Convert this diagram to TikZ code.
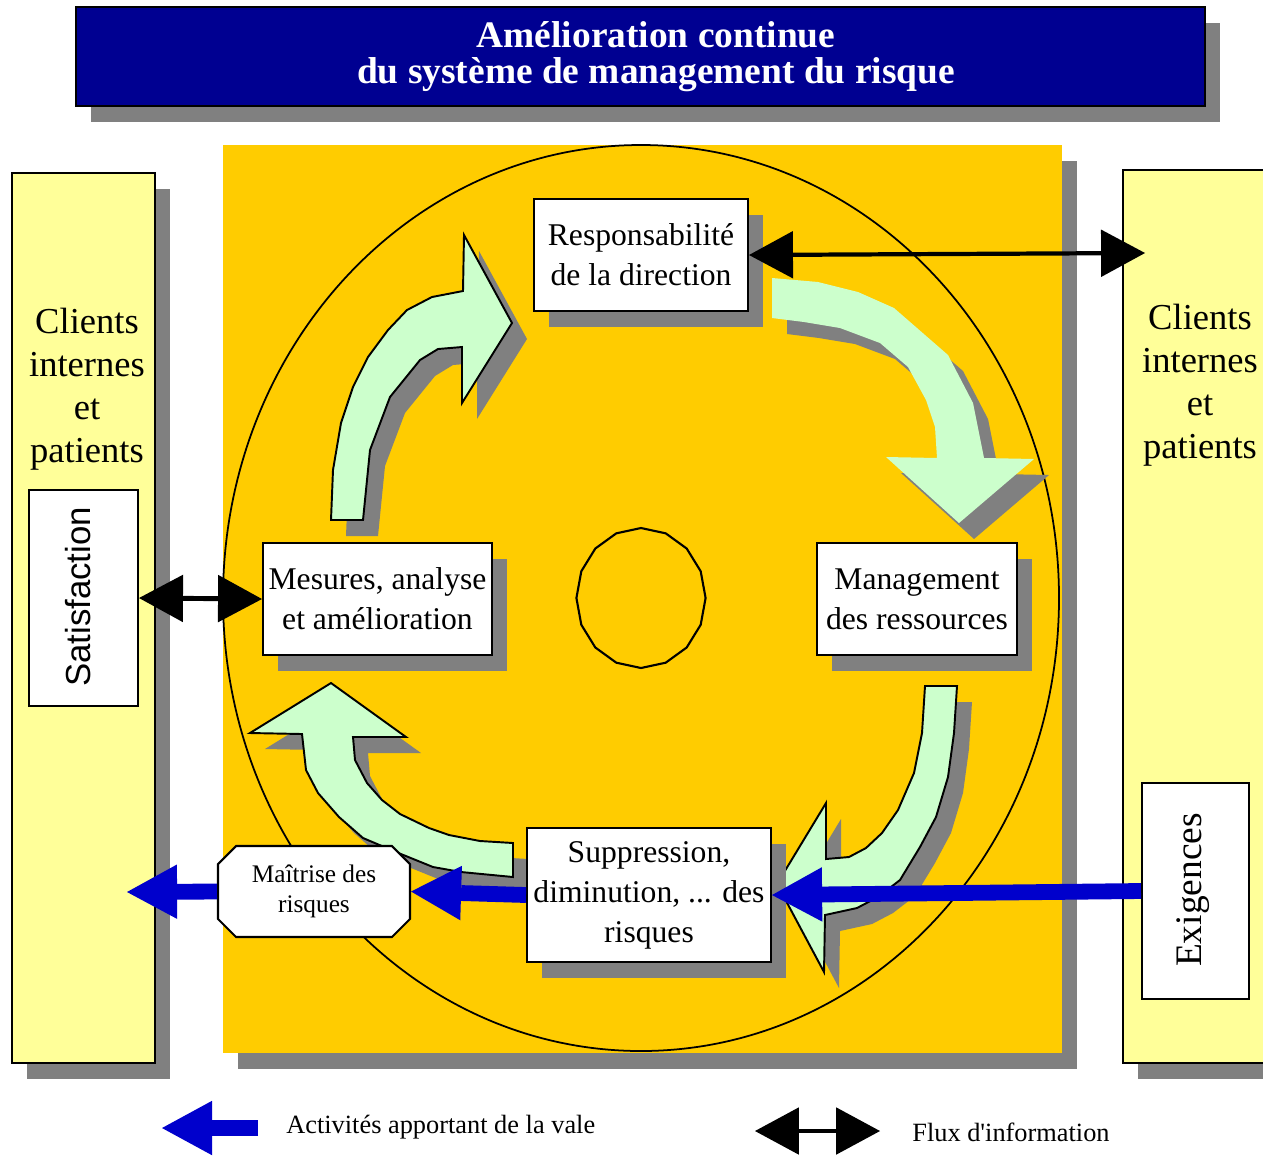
\documentclass[tikz,border=0pt]{standalone}
\usepackage{fontspec}
\setmainfont{Liberation Serif}
\newfontfamily\satfont{Liberation Sans}
\newfontfamily\legendfont{Liberation Serif}[Ligatures=TeXOff]
\usetikzlibrary{arrows.meta,shadows,shapes.misc}
\definecolor{titleblue}{RGB}{0,0,145}
\definecolor{panelorange}{RGB}{255,204,0}
\definecolor{paleyellow}{RGB}{255,255,153}
\definecolor{palegreen}{RGB}{204,255,204}
\definecolor{valueblue}{RGB}{0,0,204}
\definecolor{shadowgray}{RGB}{128,128,128}

\begin{document}
\begin{tikzpicture}[x=0.02cm, y=-0.02cm,
    hardshadow/.style={drop shadow={shadow xshift=0.3cm, shadow yshift=-0.32cm, fill=shadowgray, opacity=1}},
    whitebox/.style={draw, line width=1.2pt, fill=white, hardshadow, align=center, inner sep=0pt, font=\fontsize{18}{22.7}\selectfont},
    greenarrow/.style={fill=palegreen, draw, line width=1.1pt, line join=miter, hardshadow},
    valuearrow/.style={draw=valueblue, line width=9pt, -{Triangle[length=28.5pt, width=31pt, line width=0pt]}},
    infoarrow/.style={line width=2.8pt, {Triangle[length=25pt, width=27pt, line width=0pt]}-{Triangle[length=25pt, width=27pt, line width=0pt]}},
    sidetext/.style={align=center, font=\fontsize{20.8}{24.4}\selectfont},
    legendtext/.style={anchor=west, inner sep=0pt, font=\legendfont\fontsize{15}{18}\selectfont}]

    % Page
    \useasboundingbox (0,0) rectangle (1263,1157);
    \clip (0,0) rectangle (1263,1157);
    \fill[white] (0,0) rectangle (1263,1157);

    % Title
    \node[draw, line width=1.2pt, fill=titleblue, hardshadow, minimum width=22.58cm, minimum height=1.98cm] (title) at (640.5,56.5) {};
    \node[align=center, text=white, font=\bfseries\fontsize{21.3}{20.5}\selectfont] (titletext) at (656,57)
        {Amélioration continue\\du système de management du risque};

    % Panels
    \fill[panelorange, hardshadow] (223,145) rectangle (1062,1053);
    \draw[fill=paleyellow, line width=1.2pt, hardshadow] (12,173) rectangle (155,1063);
    \draw[fill=paleyellow, line width=1.2pt, hardshadow] (1123,170) rectangle (1280,1063);
    \node[sidetext] (clientsleft) at (87,389) {Clients\\internes\\et\\patients};
    \node[sidetext] (clientsright) at (1200,385) {Clients\\internes\\et\\patients};

    % Big circle and small circle
    \draw[line width=1pt] (641,598) ellipse [x radius=418, y radius=453];
    \draw[line width=1.2pt] plot[samples=17, domain=0:360] ({641+64.6*sin(\x)}, {598-70*cos(\x)}) -- cycle;

    % Green arrows
    \draw[greenarrow] (331,520) -- (333,470) -- (341,423) -- (353,387) -- (368,357) -- (388,330) -- (407,310)
        -- (432,297) -- (463,291) -- (464,235) -- (512,323) -- (462,403) -- (462,347) -- (438,349)
        -- (420,360) -- (390,397) -- (370,450) -- (363,520) -- cycle;
    \fill[palegreen, hardshadow] (772,278) -- (818,282) -- (858,292) -- (894,308) -- (948,355) -- (973,403)
        -- (984,458) -- (1034,459) -- (959,523) -- (886,457) -- (937,458) -- (935,427) -- (926,400)
        -- (908,367) -- (880,343) -- (840,328) -- (804,322) -- (772,318) -- cycle;
    \draw[greenarrow] (925,686) -- (957,686) -- (954,733) -- (948,777) -- (936,817) -- (920,847) -- (900,880)
        -- (878,897) -- (857,908) -- (825,915) -- (824,972) -- (777,884) -- (826,803) -- (826,859)
        -- (849,857) -- (866,848) -- (882,833) -- (898,810) -- (914,773) -- (922,733) -- cycle;
    \draw[greenarrow] (513,843) -- (480,841) -- (449,835) -- (429,828) -- (400,814) -- (382,800) -- (367,783)
        -- (355,760) -- (353,737) -- (406,737) -- (331,683) -- (250,733) -- (302,734) -- (306,770)
        -- (318,793) -- (339,817) -- (363,838) -- (396,852) -- (433,867) -- (461,872) -- (513,877) -- cycle;

    % Boxes
    \node[whitebox, minimum width=4.28cm, minimum height=2.24cm] (resp) at (641,255) {Responsabilité\\de la direction};
    \node[whitebox, minimum width=4.58cm, minimum height=2.24cm] (mesures) at (377.5,599) {Mesures, analyse\\et amélioration};
    \node[whitebox, minimum width=4.0cm, minimum height=2.24cm] (ressources) at (917,599) {Management\\des ressources};
    \node[whitebox, minimum width=4.88cm, minimum height=2.68cm] (supp) at (649,895) {Suppression,\\diminution, ... des\\risques};
    \node[draw, line width=1.2pt, fill=white, chamfered rectangle, chamfered rectangle xsep=0.18cm, chamfered rectangle ysep=0.18cm,
          minimum width=3.84cm, minimum height=1.82cm, inner sep=0pt, align=center, font=\fontsize{14.4}{17}\selectfont]
        (maitrise) at (314,891.5) {Maîtrise des\\risques};
    \node[draw, line width=1.2pt, fill=white, minimum width=2.18cm, minimum height=4.32cm] (sat) at (83.5,598) {};
    \node[rotate=90, font=\satfont\fontsize{19.8}{22}\selectfont] (satlabel) at (78,597) {Satisfaction};
    \node[draw, line width=1.2pt, fill=white, minimum width=2.14cm, minimum height=4.32cm] (exig) at (1195.5,891) {};
    \node[rotate=90, font=\fontsize{21.3}{24}\selectfont] (exiglabel) at (1193,890) {Exigences};

    % Value flow
    \coordinate (valueout) at (127,892);
    \draw[valuearrow] (exig.west) -- (supp.east);
    \draw[valuearrow] (supp.west) -- (maitrise.east);
    \draw[valuearrow] (maitrise.west) -- (valueout);

    % Information flow
    \coordinate (infoout) at (1145,253);
    \draw[infoarrow, line width=2.4pt] (resp.east) -- (infoout);
    \draw[infoarrow] (sat.east) -- (mesures.west);

    % Legend
    \coordinate (legvalueA) at (258,1128);
    \coordinate (legvalueB) at (162,1128);
    \coordinate (leginfoA) at (755,1131);
    \coordinate (leginfoB) at (880,1131);
    \draw[valuearrow, line width=9.5pt] (legvalueA) -- (legvalueB);
    \draw[infoarrow] (leginfoA) -- (leginfoB);
    \node[legendtext] (valuelabel) at (286,1127) {Activités apportant de la vale};
    \node[legendtext] (infolabel) at (912,1132) {Flux d'information};
\end{tikzpicture}
\end{document}
